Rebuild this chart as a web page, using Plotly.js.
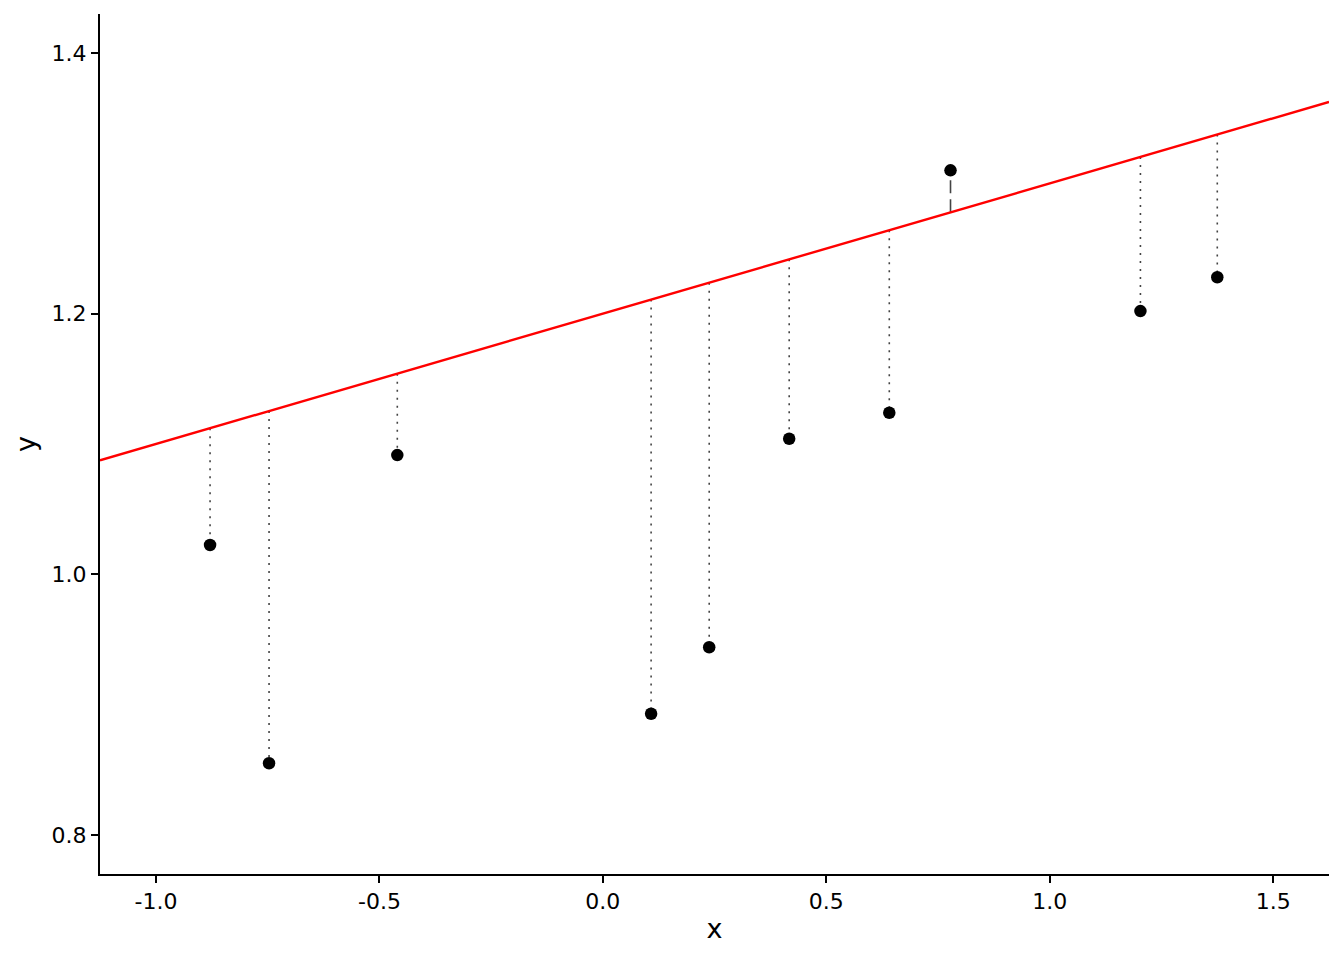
<!DOCTYPE html>
<html>
<head>
<meta charset="utf-8">
<script src="https://cdn.plot.ly/plotly-3.0.1.min.js"></script>
<style>html,body{margin:0;padding:0;background:#fff;}#chart{width:1344px;height:960px;}</style>
</head>
<body>
<div id="chart"></div>
<script>
const xVals = [-0.879, -0.747, -0.460, 0.108, 0.238, 0.417, 0.641, 0.778, 1.203, 1.375];
const yVals = [1.0225, 0.855, 1.0915, 0.893, 0.944, 1.104, 1.124, 1.310, 1.202, 1.228];
const intercept = 1.2;
const slope = 0.1;
const xRange = [-1.1253, 1.625];
const yRange = [0.770, 1.430];
const xTicks = [-1.0, -0.5, 0.0, 0.5, 1.0, 1.5];
const xTickText = ['-1.0', '-0.5', '0.0', '0.5', '1.0', '1.5'];
const yTicks = [0.8, 1.0, 1.2, 1.4];
const yTickText = ['0.8', '1.0', '1.2', '1.4'];

const fit = x => intercept + slope * x;
const traces = [];
xVals.forEach((x, i) => {
  const y = yVals[i];
  const f = fit(x);
  traces.push({
    x: [x, x], y: [f, y], mode: 'lines', type: 'scatter', hoverinfo: 'skip',
    line: {color: '#444444', width: 1.6, dash: (y - f) > 0 ? '13px,6px' : '2px,6px'},
    showlegend: false
  });
});
traces.push({
  x: xRange, y: xRange.map(fit), mode: 'lines', type: 'scatter',
  line: {color: '#ff0000', width: 2.4}, showlegend: false
});
traces.push({
  x: xVals, y: yVals, mode: 'markers', type: 'scatter',
  marker: {color: '#000000', size: 12.5}, showlegend: false
});

const fam = 'DejaVu Sans, sans-serif';
const layout = {
  width: 1344, height: 960,
  margin: {l: 100, r: 15, t: 14, b: 86},
  paper_bgcolor: '#fff', plot_bgcolor: '#fff',
  font: {family: fam, color: '#000'},
  showlegend: false,
  xaxis: {
    range: xRange, tickvals: xTicks, ticktext: xTickText,
    showgrid: false, zeroline: false,
    showline: true, linecolor: '#000', linewidth: 2,
    ticks: 'outside', ticklen: 7, tickwidth: 2, tickcolor: '#000',
    tickfont: {family: fam, size: 22, color: '#000'},
    title: {text: 'x', font: {family: fam, size: 27, color: '#000'}, standoff: 6}
  },
  yaxis: {
    range: yRange, tickvals: yTicks, ticktext: yTickText,
    showgrid: false, zeroline: false,
    showline: true, linecolor: '#000', linewidth: 2,
    ticks: 'outside', ticklen: 7, tickwidth: 2, tickcolor: '#000',
    tickfont: {family: fam, size: 22, color: '#000'},
    title: {text: 'y', font: {family: fam, size: 27, color: '#000'}, standoff: 8}
  }
};
Plotly.newPlot('chart', traces, layout, {displayModeBar: false, staticPlot: true});
</script>
</body>
</html>
